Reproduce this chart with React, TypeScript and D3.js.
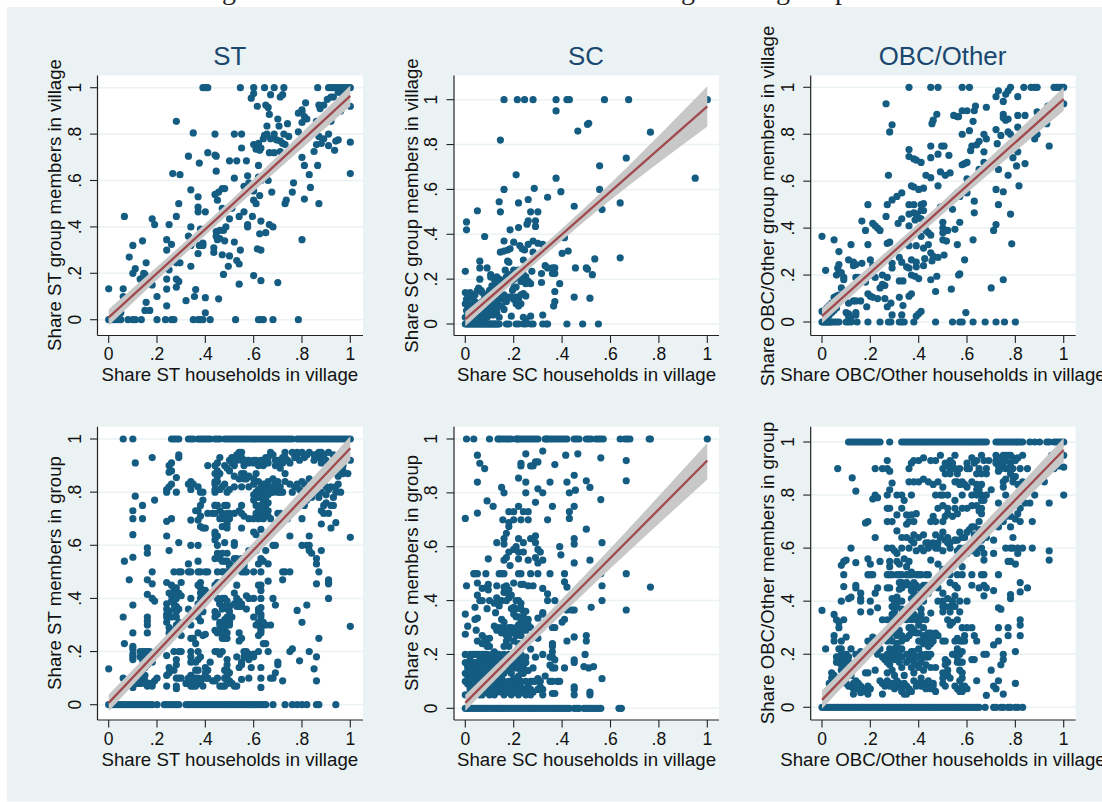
import React from "react";
import * as d3 from "d3";

// All shares are in percent of the axis range 0..1
type P = number[];
const yTicks = [0, 0.2, 0.4, 0.6, 0.8, 1];
const tickLabel = (v: number) => (v === 0 ? "0" : v === 1 ? "1" : String(v).replace("0.", "."));

const st1Top = [39,40,41,54.5,60,64.5,68.5,72.5,86.5,91,92,93,94,95,96,97,98,99,100];
const st1Bottom = [0,0.5,1,2,3,4,5,8,10,11,13.5,20,23.5,26,27,35,37,38,39,42,52.5,62,63,64,68,78.5];
const st1: P[] = [[59,95.5],[60,97.5],[61.5,92],[65,92.5],[66,91.5],[67,97],[71,96],[72,97],[66.5,88.5],[65.5,83.5],[70,86.5],[70.5,83.5],[74,84.5],[68.5,80],[64.5,79.5],[64,78],[62,76],[65.5,80],[67,78],[69.5,77.5],[71,77],[72.5,80],[74.5,79],[72,76],[73,75.5],[60,75.5],[61,73.5],[63,74],[62.5,73],[66.5,72],[68.5,72],[71,72.5],[55,74],[52,80],[55,80],[44,80],[35,80.5],[28,85.5],[33,70.5],[41,72],[44,71],[44.5,70.5],[37.5,67.5],[50,68.5],[53,68.5],[57,68.5],[62,66.5],[44.5,64],[26.5,63],[29.5,62.5],[52,61],[57.5,62],[62,61.5],[66,60],[63,60],[34,56],[37,53],[44,54],[45.5,55],[47,56.5],[48,56.5],[56,57.5],[58,59],[60,55.5],[45,51.5],[60,51.5],[61,50],[62.5,53.5],[67.5,55],[73,50],[73.5,51.5],[76,55],[76.5,59],[29,50],[37,48.5],[37,46.5],[40,46.5],[28,44.5],[18,43.5],[19,41],[25,41],[6.5,44.5],[34,40],[47,48],[51,48],[56,46.5],[54,44.5],[59.5,44.5],[50,43.5],[57.5,41],[57.5,40],[63,42.5],[66.5,41],[68,40],[48.5,40],[46,38.5],[47.5,38.5],[44.5,38],[44.5,36],[45,34.5],[46,35],[48,34],[52,33.5],[62.5,37],[65,37.5],[80,34.5],[33,36],[38,39],[39,33],[37.5,32],[39,32],[34,32],[14,34],[24,34.5],[10,32],[26,32.5],[24,30],[8.5,27],[15.5,24.5],[11,22],[10,20],[14.5,20],[15,19.5],[14,18],[13,17.5],[18,15],[25,21.5],[28,24.5],[29.5,24.5],[34,23],[37,28.5],[43.5,31],[43.5,29],[47,28],[50,27.5],[49.5,23],[53,25.5],[54,24],[54.5,30],[61.5,30.5],[63,30],[47.5,19.5],[60,19],[63,16.8],[70,16],[54,15.3],[24,17.5],[28,17.5],[29,16.5],[28,14],[24,13.2],[36,13],[35.5,10],[40,9.5],[45.5,9],[32,8.2],[20,10],[6,13.3],[0,13.3],[6,10],[15.5,7.5],[24,6],[15,4],[17,4],[40,3],[80,89.5],[78.5,89],[80,90.5],[81,87.5],[82,86.5],[81.5,93.5],[87,92.5],[87.5,91],[89,92.5],[80,85],[78.5,81],[80,70],[81,66.5],[83,62.5],[83.5,57],[81,52],[87,50],[86.5,66.5],[85,72.5],[86,75.5],[88,76],[87,79],[89,78],[91,80],[91,75],[93.5,73],[94,77],[95,77.5],[100,76.5],[100,63],[100,92],[96,90],[92,85.5],[86,85.5],[90.5,95],[92,96],[93,96],[95,98],[96,98],[97,99],[3,2],[2,1.5],[5,3]];

const sc1Top = [16,21.5,24.5,28,37.5,42,43,57.5,67.5,100];
const sc1Bottom = [0,0.5,1,1.5,2,2.5,3,3.5,4,4.5,5,5.5,6,6.5,7,7.5,8,8.5,9,9.5,10,10.5,11,11.5,12,12.5,13,13.5,14,17,18,21,22,24,25,27,28,32,33.5,34,42,48.5,55];
const sc1: P[] = [[37.5,95],[51,89.5],[50.5,89],[46.5,86],[76.5,85.5],[14.5,82],[66.5,74],[55.5,70.5],[21,66.5],[37.5,65],[95,65],[16,60],[28.5,60.5],[39.5,59],[55.5,60],[34,56.5],[26,55.5],[14,54.5],[22,54],[45,52.5],[64,54],[56.5,51],[5,50.5],[14.5,50],[27,50],[30,50],[0.5,45.5],[0.5,42],[26,46],[29,46],[25.5,44.5],[29,43.5],[22,43],[18.5,42],[8,39],[16,37],[20,36.5],[22.5,35],[23.5,33.5],[24.5,33],[28,37],[30,36],[26,35.5],[32,35.5],[41,38.5],[14.5,32],[16,32.5],[17.5,33],[18.5,33.5],[28,32],[40,31.5],[42.5,32.5],[64,29.5],[53.5,29],[17.5,28],[18,27.5],[24,28.5],[6,28],[6,25],[9,25],[0,23.5],[6,20],[10.5,22],[16.5,24],[20,24],[22,22],[27.5,23.5],[33,26],[34,25],[36,25],[37,25],[31.5,22.5],[36,22.5],[37,22.5],[45.5,25],[50,25],[50.5,24.5],[52.5,22],[39,18],[31.5,18.5],[27,18],[25,18],[37,14.5],[45,12],[51.5,11.5],[37,10],[36.5,8],[32,4],[27,3.5],[24,3],[25,2],[19,3.5],[16,6.5],[13,5],[11.5,4],
[0,14],[1,13],[2,14],[0.5,11],[1.5,12],[3,12],[4,13],[5,15],[5.5,16],[6.5,15],[7,14],[0,9],[1,8],[2,9],[3,9],[4,10],[0.5,6],[1.5,5],[2.5,6],[3.5,7],[5,8],[6,9],[7,10],[8,12],[9,13],[10,15],[11,17],[10.5,21],[12,20],[13,21],[12.5,18],[13.5,19],[14,20],[15,17],[16,18],[16.5,20],[17,21],[18,22],[19,19],[20,20],[21,21],[22,24],[0,3],[1,2.5],[2,3],[3,2],[4,3.5],[5,4],[6,3],[7,4],[8,5],[9,6],[10,7],[11,8],[12,10],[13,9],[14,11],[15,12],[16,13],[13,7],[12,5.5],[10,4],[9,3],[8,2],[7,1.5],[6,1.5],[14,3],[15,8],[16,11],[17,10],[18,12],[19,12],[20,11],[21,12],[22,11],[23,13],[24,13.5],[25,12.5],[20,16],[19.5,15],[21,16.5],[21,9],[22,8],[23,9],[22,9.5],[23,19],[24,20],[25,21],[26,19],[24,22]];

const ob1Top = [36,45,48,58,61,78,83.5,86.5,88,89,96,97,98,99,100];
const ob1Bottom = [0,0.5,1,1.5,2,2.5,3,3.5,4,5,6,7,10,11,12,14.5,19,24,27.5,28.5,32,33,34,38,47,54,57,58,62.5,67.5,72,75.5,80];
const ob1: P[] = [[73,98.5],[72,96],[76,97],[77,98.5],[75,94],[81,96],[93.5,92],[96,93],[99,93],[100,93],[26.5,93],[47.5,88.5],[45.5,84.5],[46,86],[54.5,88],[56,87.5],[56.5,87.5],[58,90],[60,90],[63,90],[63.5,92],[62.5,85.5],[68,91.5],[75,88.5],[75,87],[76,86],[77,86.5],[81,88],[84,88],[89,89.5],[29,84],[28,81],[58,80],[61,81.5],[64,75.5],[65,77],[67,80],[68,78],[72,82],[74,79.5],[77,81],[78,80],[81,83],[88,78],[89,80],[93,84.5],[94,75],[36,73.5],[36,70.5],[38,69.5],[39,69],[41,68],[45,75],[45,70],[48,71.5],[49.5,75],[50.5,75],[52.5,71],[58,67],[59,67.5],[60,68],[61.5,73],[62,75],[67,72.5],[67,68],[72.5,76],[81,72.5],[79,70],[80.5,66.5],[84,67.5],[27.5,62.5],[43,62.5],[45,61.5],[48,58],[49,64],[51,62.5],[53,63.5],[60,61],[65,65],[67,64],[73,65],[77,62.5],[81.5,58],[37,58],[38,57.5],[40,56.5],[42,57],[33,55],[31,53.5],[29,52],[27,50],[19,50],[36,50],[38,50],[41,50],[42,50.5],[49,49],[54,48],[55,54],[56,55],[57,53.5],[60,55],[63,51.5],[63,46.5],[72,56.5],[75,55.5],[73,50],[78,46],[36,46],[38,46.5],[39,46],[41,47.5],[42,47.5],[38.5,43.5],[40,44.5],[41,44],[33,44],[26.5,45],[31.5,42],[36,41],[16.5,43],[21,42],[22,41],[23,40],[24,39],[18,39],[50,42.5],[50,40],[52,39],[55,39.5],[57,42.5],[50,38],[43,39],[44,38],[45,37],[41,36.5],[27,33.5],[28,34],[19,33],[12,33],[5,35],[0,36.5],[7,30],[36,32.5],[39,32.5],[42,31.5],[44,33],[50,35],[51.5,34.5],[56,33],[62.5,35],[71,39],[72,41.5],[78.5,33.3],[45,29.5],[46,28],[48,27.5],[50.5,28.5],[45.5,26],[42.5,27],[39,23.5],[42,24],[37,26.5],[39,25.5],[32,27.5],[33,25.5],[35,23.5],[36,23],[29,25],[29,23],[20,26.5],[16.5,25],[11,26.5],[13,25.5],[13,24],[14,24.5],[7,24.5],[6.5,23],[7,21],[1.5,22],[6,20],[8,21],[9,19],[9,18],[14,19],[15,19],[16,18],[18,17],[20,20],[22,19],[25,20],[27,19],[21,24],[37,20],[38.5,19.5],[40,18.5],[32,17.5],[33.5,17.5],[45,18],[47.5,19.5],[56.5,20],[57,20.5],[59,26.5],[53.5,14],[70,14.5],[75,18],[47,13],[32,10.5],[36,11],[37,12],[24,14.5],[25,16],[26,15.5],[26,10],[27,6.5],[28.5,8],[33.5,7],[19,12],[20,11],[21,10.5],[23,10],[18.5,6.5],[13,9],[14,9],[16,9],[11,8],[8,14.5],[6,11],[5,10.5],[7,11.5],[4,8],[3,7],[2,6],[1,5],[0,4.5],[10,4],[11,3.5],[14,4],[14,3],[11,2.5],[12,2],[29,3],[33,3],[41,4.5],[40,3.5],[39,2.5],[59.5,4],[2,2],[3,3],[4,4],[5,5],[6,6]];

const st2Top = [6,10,26,27,28,29,33,34,35,37,38,39,40,41,42,44,45,46,48,49,50,51,52,53,54,55,56,57,58,59,60,61,62,63,64,65,66,67,68,69,70,71,72,73,74,75,76,78,79,80,81,82,83,84,85,86,87,88,89,90,91,92,93,94,95,96,97,98,99,100];
const st2Bottom = [0,0.5,1,2,3,4,5,6,7,8,9,10,11,12,13,14,15,16,17,18,20,23,24,25,26,27,28,29,32,33,34,35,36,37,38,39,40,41,42,43,44,45,46,47,48,49,50,51,52,53,54,55,56,57,58,59,60,61,62,63,64,65,68,73,76,78,80,82,86,87,94];
const st2: P[] = [[18,93],[11,91],[11,78.5],[19,77],[14,75],[10,73],[10,70],[14,70],[10,64],[10,55.5],[6.5,54],[8.5,47],[10,37.5],[6,33],[10,27],[6.5,23],[10,22],[10,21],[10,19],[10,18],[10,17],[0,13.5],[6,10],[10,6.5],[10,8],[16,59],[16,57],[16,47],[18,50],[18,45.5],[16,41.5],[18,40],[19,39],[16,33],[16,31.5],[16,30],[16,27],[13,20],[14,20],[15,20],[16,20],[17,20],[13,18],[14,17],[15,19],[16,18],[18,16],[14,15],[15,14],[16,15],[14,12],[15,11],[13,10],[14,9],[12,8],[13,8],[15,8],[16,8],[17,8],[18,8],[19,9],[20,10],[11,8],[15,9],[16,7],[18,7],
[26,91],[25,90],[26,88],[25,87.5],[29,93],[29,94],[24,81],[24,80],[26,83],[28,85.5],[28,80],[25,82],[24,69],[26,70],[24,63.5],[25,58],[29,61],[24,46],[26,45],[27,50],[29,50],[30,50],[30,46],[28,44],[26,41],[27,42],[29,42],[30,41],[24,38],[24,36],[24,33],[24,31],[28,37],[28,35],[28,33],[28,30],[26,28],[25,27],[30,26],[24,18.5],[27,20],[29,20],[30,20],[28,17],[28,15],[25,14],[25,12],[24,11],[27,13],[28,10],[29,10],[30,10],[24,7],[28,7],[28,6],
[34,84],[35,83],[33,83],[34,81],[38,80],[37,82],[39,80],[39,77],[38,75],[37,73],[36,73],[38,71],[34,69.5],[37,69.5],[38,67],[39,66.5],[40,66.5],[34,60],[37,60],[33,53],[37,54],[33,50],[34,50],[37,50],[38,50],[40,50],[41,50],[38,46],[37,45],[38,44],[38,42],[39,42],[40,41],[34,40],[33,36],[34,34],[37,33],[38,31.5],[34,30],[37,27],[39,26],[40,26.5],[34,25],[35,25],[36,23],[34,20],[37,20],[38,18],[34,18],[34,16],[36,16],[37,17],[36,13],[37,13],[40,14],[40,12],[34,11],[33,10],[32,8],[33,8],[34,7],[35,8],[36,7],[37,8],[38,8],[39,10],[40,10],[41,10],[41,13],
[41,72],[43,72],[44,75],[45,75],[44,72],[46,70],[48,75],[49,75],[46,73],[48,70],[49,68],[47,67],[49,66.5],[44,64],[45,63.5],[44,84],[44,83],[44,81],[44,80],[45,84],[46,81],[45,86],[44,90],[45,91],[46,93],[41,90],[48,90],[49,89],[50,88],[47,82],[49,80],[50,81],[48,83],[45,60],[48,61],[45,57],[47,57],[49,57],[44,55],[46,55],[47,54],[49,54],[50,53],[45,50],[47,50],[48,50],[50,50],[44,45],[45,46],[46,46],[45,40],[46,38],[48,37],[49,36],[50,37],[44,33],[45,34],[49,33],[50,33],[51,33],[46,31],[47,30],[48,31],[44,28],[45,27],[47,27],[48,26],[49,27],[48,25],[49,25],[44,20],[45,20],[46,19],[47,20],[49,17],[48,13],[49,13],[49,11],[48,10],[49,9],[50,9],[46,7],[47,7],[48,7],[49,8],[51,8],[52,7],[53,7],
[50,92],[51,91],[52,92],[53,94],[54,93],[55,95],[55,92],[56,90],[57,92],[58,91],[60,92],[61,92],[62,90],[64,92],[65,91],[66,93],[67,95],[69,90],[70,91],[71,89],[72,93],[73,93],[75,91],[52,82],[55,82],[55,87],[56,85],[57,85],[58,82],[60,85],[61,87],[62,84],[63,82],[64,80],[65,83],[66,84],[67,82],[68,85],[69,81],[70,84],[71,82],[72,80],[73,87],[73,84],[75,83],[77,82],[76,80],[52,72],[54,73],[55,75],[55,72],[56,71],[58,70],[60,70],[61,75],[62,74],[63,72],[64,70],[65,75],[66,73],[67,70],[64,77],[65,78],[60,79],[61,78],[62,78],[66,79],[55,66.5],[63,66],[60,65],[61,64],[65,62.5],[52,61],[52,60],[53,55],[54,54],[56,53],[58,58],[61,58],[62,53],[63,55],[64,54],[66,53],[68,60],[69,60],[65,58],[55,50],[56,50],[57,50],[60,50],[63,50],[53,45],[62,45],[63,45],[63,43],[66,46.5],[52,42],[53,40],[54,39],[55,38],[57,41],[58,40],[60,40],[63,40],[57,36],[62,36],[63,36.5],[60,33],[63,33],[62,30],[63,29],[63,27],[65,30],[67,30],[54,27],[55,25],[54,24],[56,20],[57,20],[58,19],[60,19],[62,20],[64,23],[65,23],[66,20],[53,18],[55,16],[54,14],[58,17],[60,18],[59,14],[63,14],[55,9.5],[58,10],[63,10],[63,6.5],[67,10],[68,10],[69,12],[70,16],[70,15],[72,9],
[73,50],[72,50],[75,50],[72,47],[68,40],[69,37.5],[78,35.5],[80,31],[75,20],[76,21],[79,16.5],[83,20],[82,37.5],[87,25],[85,13.5],[86,18],[86,9],[76,95],[78,95],[80,95],[81,93],[82,94],[83,95],[85,92],[85,94],[87,93],[88,95],[89,93],[91,95],[93,94],[94,92],[78,83],[79,81],[80,84],[80,80],[81,83],[83,85],[85,83],[86,80],[87,78],[88,83],[90,82],[90,79],[91,81],[93,78],[94,80],[95,86],[96,88],[97,87],[99,87],[100,92],[97,90],[95,91],[82,77],[81,75],[84,78],[88,73],[89,72],[91,72],[92,75],[80,70],[82,60],[83,60],[83,58],[84,57],[80,60],[83,63.5],[88,68],[92,66.5],[94,68.5],[88,58],[86,55],[86,53],[87,50],[86,45.5],[91,46],[91,47],[91,45.5],[91,40],[100,63],[100,29.5],[70,72],[71,72],[72,70],[74,70],[75,63.5],
[62,81],[63,79],[64,83],[65,81],[66,76],[61,72],[62,70],[63,75],[64,73],[65,72],[66,71],[61,80],[60,77],[66,81],[67,80],[68,80],[69,83],[70,80],[71,80],[62,35],[63,34],[62,31],[61,30],[63,28],[64,31],[62,26],[46,30],[48,32],[49,30],[50,31],[46,28],[47,25],[48,28],[50,30],[27,38],[27,36],[28,40],[26,39],[25,42],[27,44],[29,36],[29,31],[26,33],[25,29],[25,35],[24,34],[86,94],[87,95],[88,91],[89,94],[90,92],[91,90],[93,91],[94,88],[95,89],[96,91],[97,88],[95,83],[96,80],[94,82],[92,82],[90,76],[93,75],[88,80],[89,75],[51,93],[52,90],[53,92],[54,95],[55,93],[56,92],[58,92],[60,91],[63,92],[64,90],[65,93],[66,91],[68,94],[69,92],[70,92],[72,91],[73,95],[74,92],[77,93],[78,94],[79,92],[42,16],[41,10],[43,9],[44,9],[45,10],[38,9],[37,10],[35,9],[34,9],[36,10],[35,7],[36,8],[39,7],[50,12],[49,15],[55,15],[56,18],[57,18],[44,35],[46,38],[47,40],[48,40],[49,39],[50,35],[47,36],[52,38],[53,37],[54,37],[55,37],[40,43],[38,40],[37,38],[39,35],[44,65],[44,62],[48,54],[50,52],[52,55],[53,53],[55,55],[56,52],[44,75],[47,72],[48,70],[50,72],[50,70],[49,72],[46,87],[45,88],[44,87],[52,86],[54,85],[56,87],[58,86],[60,83]];

const sc2Top = [0.5,3.5,10,13.5,14,15,16,17,18,19,21,21.5,22,23,24,25,26,27,28,29,30,33,33.5,34,35,36,37,38,39,40,41,42,45,46,47,50,51,52,54,55,56,57,64,66,67,68,76,76.5,100];
const sc2Bottom = [0,0.5,1,2,3,4,5,6,7,8,9,10,11,12,13,14,15,16,17,18,19,20,21,22,23,24,25,26,27,28,29,30,31,32,33,34,35,36,37,38,39,40,41,42,43,45,46,47,49,50,51,52,53,54,55,56,63.5,64.5];
const sc2: P[] = [[5,94],[6,91],[8,89],[5,84],[0,70.5],[5,72.5],[9,77],[11.5,75],[15,82],[16,80],[25,94.5],[32,95.5],[41.5,94],[46.5,94.5],[23,91],[23,90],[27,90],[28,90],[29,91.5],[30,91.5],[37,90.5],[56,93],[66.5,92],[22,85.5],[25,84],[35,84],[42,84],[45,86.5],[50,84.5],[51.5,82],[66.5,84.5],[30,81.5],[25,80],[32,80],[43,80],[45.5,81],[29,76.5],[36,75],[56,77.5],[45,75],[22,75],[18,73],[20,73],[24,73],[26,73],[15.5,70],[20,70],[23,70],[26,70],[34,70],[43,73],[43,70.5],[50,66.5],[18,69],[18,67.5],[17,65],[16,63],[13,61.5],[16,61],[22,63],[24,61.5],[27,63],[29,64],[29,61.5],[30,59],[31,58],[20,59],[21,60],[22,58],[24,58],[45,63],[45,61],[39,60],[39.5,57],[56.5,61.5],[18,58],[16,55],[17,56],[22,55.5],[26,55],[29,56],[30,54],[32,55],[9.5,55.5],[18.5,53],[45,54],[51.5,55],[3.5,50],[4,50],[5,50],[8.5,50],[14,50],[15,50],[16,50],[22,50],[23,50],[27,50],[30,50],[35,50],[41,50],[56,50],[66.5,50],[0.5,45.5],[5,46.5],[7,44.5],[9,45],[9.5,46],[9.5,44],[13,45.5],[16,45],[17,45.5],[16,43],[17,43],[18,44],[19,42],[20,46.5],[23,46],[24,46],[26,45.5],[28,45.5],[32,44.5],[41,47],[42,45],[34,42.5],[34,40],[37,40],[56.5,45.5],[56.5,40],[76.5,45],[5,42],[6,40],[7,40],[10,40],[13,41],[14,40],[15,40],[17,40],[18,41],[21,40],[22,40],[23,39],[20,37.5],[21,37],[23,37],[24,36],[25,36],[4,37.5],[9,37],[12.5,35.5],[0,35],[4,33],[5,33.5],[15,33],[16,32],[21,34],[24,34],[26,33],[30,33.5],[32,35],[1,30.5],[4.5,29],[12,30.5],[13,29],[14,30],[16,30],[17,29],[18,28],[19,30],[21,30],[22,31],[23,29],[24,31],[25,29],[27,30],[36,30],[37,30],[40,32],[41,33],[42,36.5],[44,36.5],[45,36.5],[52,37.5],[66.5,36.5],[0,27.5],[5,25],[7,27],[8,24],[9,25],[10,26],[17,25],[18,26],[16,23],[18,23],[20,25],[22,24],[25,25],[30,26],[32,35.5],[36,24],[36,23],[36,21],[42,25],[45,26.5],[50,27],[50,25],[49.5,20],[0,20],[2,20],[3,20],[4,20],[5,20],[6,20],[7,20],[8,20],[9,20],[11,20],[12,21],[13,20],[14,20],[15,19],[16,20],[18,20],[20,20],[21,20],[23,20],[25,19],[27,22],[29,19],[32,20],[35,19],[36,19],[37,18],[45,18],[45,17],[49,15.5],[51,15],[53,15.5],[41,15],[35,16],[36,15],[37,15],[28,15],[0,17],[1,16],[3,17],[4,15],[5,17],[6,16],[8,15],[9,14],[10,17],[11,18],[12,16],[13,15],[14,17],[15,15],[17,16],[19,17],[20,16],[21,15],[22,17],[23,16],[24,17],[0,13],[1,12],[2,13],[3,11],[4,13],[5,12],[6,12],[7,11],[8,13],[10,12],[11,13],[12,14],[14,12],[15,11],[16,13],[18,14],[19,13],[20,11],[22,12],[23,14],[24,13],[56.5,11],[0,10],[1,9],[2,10],[3,8],[4,9],[5,10],[6,8],[7,9],[9,10],[10,8],[11,9],[13,10],[14,9],[15,10],[16,10],[17,9],[18,8],[20,9],[21,10],[22,9],[23,10],[25,10],[27,10],[29,10],[30,11],[31,10],[33,12],[35,10],[36,10],[38,10],[39,10],[31,8],[32,7],[45,8],[45,7],[36,5.5],[37,5.5],[45,5],[51.5,6],[51.5,5],[0,5],[3,5],[4,6],[6,5],[7,5],[8,6],[10,5],[12,5],[16,5],[17,6],[19,5],[22,5],[23,6],[25,5],[26,6],[27,5],[32,5],
[1,15],[2,16],[2,18],[3,14],[4,17],[5,14],[6,14],[6,18],[7,17],[7,15],[8,17],[8,19],[9,16],[9,18],[10,14],[10,19],[11,15],[12,18],[13,17],[14,18],[15,17],[16,16],[17,18],[18,17],[19,15],[20,18],[21,18],[22,15],[23,18],[24,15],[25,17],[26,14],[1,10],[2,8],[2,7],[3,6],[3,12],[4,7],[5,6],[6,6],[6,10],[7,7],[8,8],[8,10],[9,8],[9,7],[10,10],[11,6],[11,11],[12,7],[12,9],[13,6],[13,12],[14,7],[15,6],[15,8],[16,7],[17,8],[18,6],[18,10],[19,7],[20,6],[21,7],[22,7],[23,8],[24,7],[25,7],[26,8],[27,7],[28,6],[28,10],[30,7],[14,38],[12,39],[19,37],[20,35],[22,34],[23,33],[24,30],[25,32],[26,31],[22,28],[23,27],[21,27],[20,28],[18,30],[17,27],[15,28],[8,26],[9,23],[10,23],[7,24]];

const ob2Top = [11,12,13,14,15,16,17,18,19,20,21,22,23,24,28,33,34,35,36,37,38,39,40,41,42,43,44,45,46,47,48,49,50,51,52,53,54,55,56,57,58,59,60,61,62,63,64,65,66,67,68,72,73,74,75,76,77,78,79,80,81,82,83,86,88,90,93,94,96,97,98,99,100];
const ob2Bottom = [0,1,2,3,4,5,6,7,8,9,10,11,12,13,14,15,16,17,18,19,20,21,22,23,24,25,26,27,28,29,30,31,32,33,34,35,36,37,38,39,40,41,42,43,44,45,46,47,48,49,50,51,52,53,54,55,56,57,58,59,60,61,62,63,64,65,67.5,71,72,74,75,77,78,80,81,83];
const ob2: P[] = [[6.5,90],[12.5,86.5],[14,81.5],[22,90],[25,90],[27,90],[28,89],[27,93],[29,84.5],[28,82],[27,80],[31,80],[33,80],[34,78],[22,80],[21,78.5],[23,79],[27,75],[28,75],[33,75],[18,69.5],[19,70],[27,70],[29,70],[31,72.5],[35,72.5],[37,72.5],[38,70],[39,73],[36,70],[35,69],[31,66.5],[33,64],[35,64],[37,63],[38,65],[40,64],[42,65],[43,62],[22,64],[27,60],[29,60],[30,59],[31,58],[33,60],[12,60],[9,55],[10,55.5],[8,53.5],[14,54.5],[19,56],[20,54],[24,55],[28,53],[28,55],[31,55],[32,54],[34,56],[36,55],[35,53],[37,51],[9,50],[19,50],[20,50],[21,50],[27,50],[28,50],[29,50],[31,50],[32,50],[33,50],[35,50],[36,50],[37,50],[39,50],[40,50],[41,50],[43,50],[44,50],[9,45.5],[14,46],[14,45],[23,45],[27,45],[28,45],[32,44.5],[33,47],[34,46],[36,46],[37,46],[38,45],[39,46],[40,45],[42,46],[11,41],[12,41.5],[16,43],[16,41],[16,40],[20,40],[22,43],[29,41],[31,40],[30,39],[29,38],[8,40],[16,36],[20,36],[23,37.5],[31,41.5],[33,40],[37,41],[39,40],[40,38],[41,37],[42,40],[0,36.5],[5,35],[6,33],[9,33],[7,32],[7,30],[25,33],[27,33],[29,35],[30,34],[31,32],[33,33],[36,34],[37,33],[39,33],[40,31],[41,35],[45,35.5],[43,33],[5,27],[10,26.5],[5,25],[8,25],[7,22],[8,22],[6,19],[8,20],[9,19],[10,18],[11,17],[7,17],[8,16],[9,15],[10,15],[1.5,22],[12,22],[14,20],[16,21],[19,25],[21,26.5],[20,24],[22,22],[24,22],[26,27],[27,25],[29,25],[31,27],[32,29],[33,27],[35,26],[36,30],[37,28],[38,29],[28,22],[30,21],[31,23],[33,22],[35,20],[37,21],[38,19],[40,22],[41,25],[42,24],[44,23],[45,24],[44,20],[43,19],[41,17],[47,28],[48,27],[45,28],[44,27],[50,25],[51,25],[23,20],[25,19],[26,18],[27,17],[28,16],[30,18],[32,17],[33,15],[35,17],[37,15],[38,13],[40,15],[18,13],[19,13],[22,14],[4,13],[5,12],[4,11],[3,9],[3,7],[2,6],[2,5],[4,8],[5,7],[6,8],[9,10],[10,9],[11,8],[12,8],[13,9],[14,10],[15,7],[16,8],[17,7],[19,8],[20,7],[18,6],[13,5],[16,5.5],[19,5],[24,10],[25,9],[26,8],[27,10],[28,8],[29,9],[30,7],[31,8],[32,9],[33,6],[34,5],[35,5],[36,7],[37,6],[38,10],[39,8],[40,9],[41,8],[42,9],[43,7],[44,8],[45,7],[46,9],[47,6],[25,5],[47,15],[45,15],[51,18],[52,17],[50,13],[52,14],[54,20],[56,22],[57,25],[59,27],[58,30],[50,9],[51,8],[55,8],[56,7],[57,6],[58,6],[59,8],[60,7],[58,11],[58,13],[57,17],[58,17],[56,19],[62,18],[63,18],[64,10],[62,30],[63,27],[64,25],[54,32],[53,31],[56,33],[50,36],[51,38],[53,38],[55,38],[57,36],[50,40],[53,36],[52,33],[60,40],[55,46],[48,45],[50,43],[53,47],[56,45],[62,46],[65,45],[67,46],[68,45],[67,42],[71,44],[73,37.5],[74,37],[73,30],[77,30],[77,27],[73,25],[71,23.5],[67,20],[68,20],[70,14],[75,20],[75,18],[74,16],[73,10],[71,8],[72,7],[75,5],[68,4.5],[80,21],[80,9],[82,27],[82,31],[82,33],[85,45],[82,43.5],[82,47],[78,41],[78,42.5],[53,50],[56,50],[58,50],[62,50],[66,50],[67,50],[73,50],[67,55.5],[58,53],[45,55.5],[48,54],[50,52],[56,59],[57,60],[59,60],[60,58],[62,59],[64,58],[66,60],[67,58],[48,60],[50,59],[46,62],[47,60],[53,60],[55,63],[58,64],[60,66],[61,67],[63,68],[65,70],[62,68],[47,65],[50,66],[52,64],[53,62],[56,63],[66,63],[68,64],[71,63],[71,58],[78,60],[79,60],[81,60],[83,60],[87,60],[77,55],[78,55],[80,54],[76,60],[81,58],[94,59],[94,55.5],[45,70],[46,72],[47,70],[50,70],[51,72],[52,73],[54,72],[56,73],[48,75],[50,76],[52,75],[55,75],[58,75],[60,75],[62,76],[64,76],[66,75],[47,80],[49,80],[50,80],[52,80],[55,78],[58,80],[62,80],[64,80],[66,80],[68,80],[70,82],[37,80],[38,85],[36,85],[40,85],[42,86],[44,85],[46,84],[48,85],[50,83],[55,85],[57,84],[59,84],[62,85],[64,84],[66,84],[37,92],[36,90],[38,93],[40,93],[42,94],[45,93],[47,93],[49,95],[51,92],[53,90],[55,95],[57,90],[60,90],[62,94],[64,93],[66,95],[68,90],[69,93],[72,92],[73,91],[75,94],[76,95],[78,92],[80,93],[81,94],[82,90],[83,95],[85,90],[72,95],[74,92],[76,90],[78,88],[79,90],[80,87],[75,85],[76,80],[79,85],[81,84],[82,82],[83,85],[86,77],[84,77],[82,75],[81,73],[80,71],[78,68],[75,70],[73,68],[73,77],[76,72],[78,72],[82,70],[87,70],[79,64],[88,80],[89,85],[92,85],[94,77],[96,90],[98,91],[100,90.5],[100,95],[100,80],[95,95],[93,90],
[72,93],[73,94],[74,93],[75,95],[76,93],[77,95],[78,95],[79,94],[73,89],[74,90],[75,91],[77,90],[78,90],[79,87],[76,86],[75,83],[60,92],[61,90],[63,92],[64,88],[65,90],[66,88],[67,93],[68,88],[64,82],[65,82],[66,78],[67,78],[65,74],[66,73],[55,90],[56,88],[56,85],[58,85],[60,83],[52,91],[53,93],[54,92],[50,90],[51,88],[53,88],[6,17],[7,18],[7,19],[8,18],[9,17],[10,17],[10,20],[11,19],[8,14],[9,13],[12,12],[13,7],[14,8],[15,9],[26,19],[27,20],[28,18],[29,20],[30,22],[31,19],[32,21],[33,19],[28,26],[29,28],[30,29],[31,24],[33,25],[27,13],[29,14],[30,12],[31,10],[32,8],[33,7],[34,9],[35,8],[34,12],[36,18],[37,19],[38,17],[38,21],[39,16],[39,19],[40,19],[41,20],[42,19],[43,20],[44,19],[45,20],[43,16],[42,14],[41,11],[42,8],[44,10],[46,8],[43,25],[44,25],[40,25],[36,27],[37,30],[39,28],[35,33],[36,36],[37,36],[38,35],[40,34],[41,33],[42,30],[40,28],[42,27],[44,28],[46,27],[46,25],[55,20],[56,17],[57,20],[58,21],[55,25],[56,26],[58,25],[59,25],[60,30],[51,16],[52,12],[53,11],[50,11],[57,14],[57,10],[58,8],[32,47],[33,45],[35,47],[37,44],[38,47],[38,43],[39,42],[41,43],[43,46],[44,43],[42,42],[40,42],[33,37],[31,38],[30,36],[29,33],[48,40],[50,38],[52,41],[54,40],[55,42],[57,40],[36,60],[38,62],[39,59],[41,60],[42,59],[44,60],[44,62],[45,61],[48,62],[49,64],[52,62],[51,63],[55,63],[57,66],[59,64],[63,65],[64,63],[65,67],[64,60],[62,62]];

const zip = (xs: number[], y: number): P[] => xs.map((x) => [x, y]);

type Band = number[]; // x, low, fit, high
const st1Fit: Band[] = [[0,-2.5,1,4.5],[50,46,48.5,51],[100,92,96.5,101]];
const sc1Fit: Band[] = [[0,-1,2.2,5.5],[20,18.5,21,23.5],[50,46.5,49.5,52.5],[100,88,97,106]];
const ob1Fit: Band[] = [[0,-0.5,2.5,6],[50,46,48.8,51.5],[100,90,95,100]];
const st2Fit: Band[] = [[0,-2.5,0.7,3.8],[50,46,48.7,51.3],[100,92,96.5,101]];
const sc2Fit: Band[] = [[0,-1,2,5],[20,17.5,20,22.5],[50,43.5,46.8,50],[100,85,92,98.5]];
const ob2Fit: Band[] = [[0,-0.5,2.8,6.3],[50,47,50,53],[100,92.5,97,101.5]];

const navy = "#1a476f";
const dotColor = "#155c82";
const fill = "#eaf2f3";

const panels = [
  { title: "ST", xl: "Share ST households in village", yl: "Share ST group members in village", pts: [...st1, ...zip(st1Top, 100), ...zip(st1Bottom, 0)], fit: st1Fit, left: 97.5, right: 363, top: 75.5, bot: 335.5, x0: 108.7, x1: 350.3, y0: 319.7, y1: 87.7, ylx: 61, yly: 205, tx: 229.7, xlc: 229.8, tb: 65 },
  { title: "SC", xl: "Share SC households in village", yl: "Share SC group members in village", pts: [...sc1, ...zip(sc1Top, 100), ...zip(sc1Bottom, 0)], fit: sc1Fit, left: 454, right: 719, top: 75.5, bot: 335.5, x0: 465.3, x1: 707.3, y0: 324, y1: 99.7, ylx: 417.7, yly: 205.5, tx: 586, xlc: 586.5, tb: 65 },
  { title: "OBC/Other", xl: "Share OBC/Other households in village", yl: "Share OBC/Other group members in village", pts: [...ob1, ...zip(ob1Top, 100), ...zip(ob1Bottom, 0)], fit: ob1Fit, left: 810.7, right: 1075.7, top: 75.5, bot: 335.5, x0: 822, x1: 1063.7, y0: 322, y1: 87.3, ylx: 774, yly: 206, tx: 942.5, xlc: 943, tb: 65 },
  { title: "", xl: "Share ST households in village", yl: "Share ST members in group", pts: [...st2, ...zip(st2Top, 100), ...zip(st2Bottom, 0)], fit: st2Fit, left: 97.5, right: 363, top: 426.7, bot: 720, x0: 108.7, x1: 350.3, y0: 704.7, y1: 439, ylx: 61, yly: 573, tx: 0, xlc: 229.8, tb: 0 },
  { title: "", xl: "Share SC households in village", yl: "Share SC members in group", pts: [...sc2, ...zip(sc2Top, 100), ...zip(sc2Bottom, 0)], fit: sc2Fit, left: 454, right: 719, top: 426.7, bot: 720, x0: 465.3, x1: 707.3, y0: 708.3, y1: 439, ylx: 417.7, yly: 573, tx: 0, xlc: 586.5, tb: 0 },
  { title: "", xl: "Share OBC/Other households in village", yl: "Share OBC/Other members in group", pts: [...ob2, ...zip(ob2Top, 100), ...zip(ob2Bottom, 0)], fit: ob2Fit, left: 810.7, right: 1075.7, top: 426.7, bot: 720, x0: 822, x1: 1063.7, y0: 707.3, y1: 442, ylx: 774, yly: 573, tx: 0, xlc: 943, tb: 0 },
];

const font = "'Liberation Sans', Arial, sans-serif";
const headerGlyphs: [string, number][] = [["g", 229], ["g", 688], ["g", 783], ["p", 842]];

function Panel({ p }: { p: (typeof panels)[number] }) {
  const x = d3.scaleLinear().domain([0, 1]).range([p.x0, p.x1]);
  const y = d3.scaleLinear().domain([0, 1]).range([p.y0, p.y1]);
  const area = d3.area<Band>().x((d) => x(d[0] / 100)).y0((d) => y(d[1] / 100)).y1((d) => y(d[3] / 100)).curve(d3.curveMonotoneX);
  const line = d3.line<Band>().x((d) => x(d[0] / 100)).y((d) => y(d[2] / 100));
  const ink = "#222";
  return (
    <g fontFamily={font} fill="#111">
      <rect x={p.left} y={p.top} width={p.right - p.left} height={p.bot - p.top} fill="#fff" />
      {yTicks.map((t) => (
        <line key={t} x1={p.left} x2={p.right} y1={y(t)} y2={y(t)} stroke={fill} strokeWidth={1.5} />
      ))}
      {p.pts.map((d, i) => (
        <circle key={i} cx={x(d[0] / 100)} cy={y(d[1] / 100)} r={3.6} fill={dotColor} />
      ))}
      <path d={area(p.fit) ?? ""} fill="#c8c8c8" />
      <path d={line(p.fit) ?? ""} fill="none" stroke="#a04a4e" strokeWidth={2.3} />
      <line x1={p.left} x2={p.left} y1={p.top} y2={p.bot} stroke={ink} strokeWidth={1.2} />
      <line x1={p.left} x2={p.right} y1={p.bot} y2={p.bot} stroke={ink} strokeWidth={1.2} />
      {yTicks.map((t) => (
        <g key={t}>
          <line x1={p.left - 7.5} x2={p.left} y1={y(t)} y2={y(t)} stroke={ink} strokeWidth={1.1} />
          <text transform={`translate(${p.left - 17},${y(t)}) rotate(-90)`} textAnchor="middle" fontSize={17.5}>{tickLabel(t)}</text>
          <line x1={x(t)} x2={x(t)} y1={p.bot} y2={p.bot + 7.5} stroke={ink} strokeWidth={1.1} />
          <text x={x(t)} y={p.bot + 24.5} textAnchor="middle" fontSize={17.5}>{tickLabel(t)}</text>
        </g>
      ))}
      <text x={p.xlc} y={p.bot + 45.5} textAnchor="middle" fontSize={18.65}>{p.xl}</text>
      <text transform={`translate(${p.ylx},${p.yly}) rotate(-90)`} textAnchor="middle" fontSize={18.65}>{p.yl}</text>
      {p.title && <text x={p.tx} y={p.tb} textAnchor="middle" fontSize={25.8} fill={navy}>{p.title}</text>}
    </g>
  );
}

export default function App() {
  return (
    <svg width={1102} height={802} style={{ position: "absolute", left: 0, top: 0, background: "#fff" }}>
      <rect x={7} y={7} width={1095} height={794.5} fill={fill} />
      {headerGlyphs.map(([c, gx], i) => (
        <text key={i} x={gx} y={-1.5} textAnchor="middle" fontFamily="'Liberation Serif', serif" fontSize={28} fill="#222">{c}</text>
      ))}
      {panels.map((p, i) => <Panel key={i} p={p} />)}
    </svg>
  );
}
